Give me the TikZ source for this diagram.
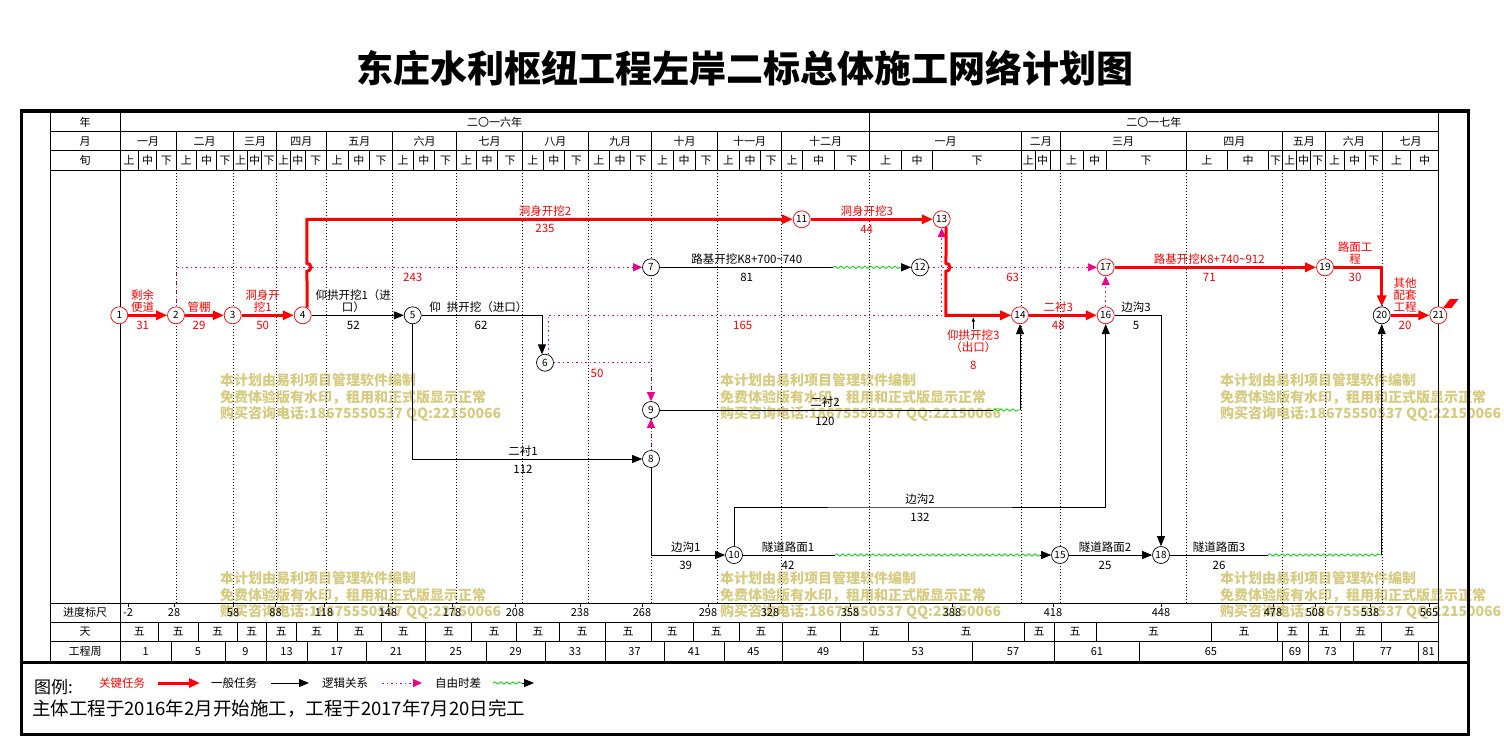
\documentclass[tikz,border=0pt]{standalone}
\usepackage{fontspec}
\setmainfont{Noto Sans CJK SC}
\usepackage{tikz}
\usetikzlibrary{arrows.meta,decorations.pathmorphing,positioning}
\definecolor{slackgreen}{RGB}{0,215,0}
\definecolor{wmcol}{RGB}{214,203,128}

\begin{document}
\begin{tikzpicture}[x=1pt,y=-1pt,
	ev/.style={shape=circle,draw=black,fill=white,inner sep=0pt,minimum size=17pt,line width=0.7pt,font=\fontsize{10}{10}\selectfont},
	kev/.style={ev,draw=red},
	crit/.style={draw=red,line width=3pt,-{Triangle[length=11pt,width=9pt]}},
	gen/.style={draw=black,line width=0.8pt,-{Triangle[length=10pt,width=8pt]}},
	logic/.style={draw=magenta,line width=0.8pt,dash pattern=on 1.5pt off 3pt,-{Triangle[length=9pt,width=8pt]}},
	wave/.style={draw=slackgreen,line width=0.8pt,decorate,decoration={snake,amplitude=1.2pt,segment length=6pt}},
	lab/.style={inner sep=0pt,align=center,font=\fontsize{11.5}{12}\selectfont},
	klab/.style={lab,text=red},
	hd/.style={inner sep=0pt,font=\fontsize{11}{11}\selectfont},
	mline/.style={line width=0.6pt,dash pattern=on 1pt off 2pt},
	wmk/.style={inner sep=0pt,anchor=west,text=wmcol,font=\fontsize{14}{15}\selectfont\bfseries}]
	\useasboundingbox (0,0) rectangle (1504,737);

	\foreach \wx [count=\i] in {220,720,1220}
		\foreach \wy [count=\j] in {380,578} {
			\node[wmk] (wa\i\j) at (\wx,\wy) {本计划由易利项目管理软件编制};
			\node[wmk] (wb\i\j) at (\wx,\wy+17) {免费体验版有水印，租用和正式版显示正常};
			\node[wmk] (wc\i\j) at (\wx,\wy+34) {购买咨询电话:18675550537 QQ:22150066};
		}

	\node[inner sep=0pt,font=\fontsize{37}{37}\selectfont\bfseries] (title) at (745,68) {东庄水利枢纽工程左岸二标总体施工网络计划图};

	\foreach \y in {131.7,150.7,170,603,622,641}
		\draw[line width=0.8pt] (50,\y) -- (1438.3,\y);
	\foreach \x in {50,120,1438.3}
		\draw[line width=0.8pt] (\x,113) -- (\x,661);
	\draw[line width=0.8pt] (869.3,113) -- (869.3,131.7);
	\draw[line width=3.5pt] (21.5,111) rectangle (1468.5,734.5);
	\draw[line width=3pt] (20,662.5) -- (1470,662.5);

	\node[hd] (lyear) at (85,122.3) {年};
	\node[hd] (lmon) at (85,141.2) {月};
	\node[hd] (lxun) at (85,160.4) {旬};
	\node[hd] (lscale) at (85,612.5) {进度标尺};
	\node[hd] (lday) at (85,631.5) {天};
	\node[hd] (lweek) at (85,651.5) {工程周};
	\node[hd] (y16) at (494.7,122.3) {二〇一六年};
	\node[hd] (y17) at (1153.8,122.3) {二〇一七年};

	\foreach \a/\b/\m [count=\i] in {120/176/一月,176/233.3/二月,233.3/276.7/三月,276.7/326/四月,326/392.7/五月,392.7/456.7/六月,456.7/522.3/七月,522.3/588.3/八月,588.3/651.7/九月,651.7/717.3/十月,717.3/781.7/十一月,781.7/869.3/十二月,869.3/1021.7/一月,1021.7/1060/二月,1060/1186/三月,1186/1282.7/四月,1282.7/1325/五月,1325/1382.7/六月,1382.7/1438.3/七月} {
		\node[hd] (mon\i) at ({(\a+\b)/2},141.2) {\m};
		\draw[line width=0.8pt] (\b,131.7) -- (\b,170);
	}

	\foreach \a/\p/\q/\b [count=\i] in {120/138.3/156.7/176,176/196.7/216.7/233.3,233.3/247.7/261.7/276.7,276.7/290.7/305/326,326/348.3/369.3/392.7,392.7/413.3/434.3/456.7,456.7/476.7/497.7/522.3,522.3/543.3/564.3/588.3,588.3/609.3/630.7/651.7,651.7/673.3/695/717.3,717.3/739.3/760.7/781.7,781.7/802.7/834.3/869.3,869.3/901.7/932.7/1021.7,1060/1083.3/1106/1186,1186/1227.7/1268.3/1282.7,1282.7/1296.7/1310.7/1325,1325/1344.3/1365/1382.7} {
		\draw[line width=0.8pt] (\p,150.7) -- (\p,170) (\q,150.7) -- (\q,170);
		\node[hd] (xa\i) at ({(\a+\p)/2},160.4) {上};
		\node[hd] (xb\i) at ({(\p+\q)/2},160.4) {中};
		\node[hd] (xc\i) at ({(\q+\b)/2},160.4) {下};
	}
	\draw[line width=0.8pt] (1035,150.7) -- (1035,170) (1050,150.7) -- (1050,170) (1410.7,150.7) -- (1410.7,170);
	\node[hd] (xfa) at (1028.4,160.4) {上};
	\node[hd] (xfb) at (1042.5,160.4) {中};
	\node[hd] (xja) at (1396.7,160.4) {上};
	\node[hd] (xjb) at (1424.5,160.4) {中};

	\foreach \x in {176,233.3,276.7,326,392.7,456.7,522.3,588.3,651.7,717.3,781.7,869.3,1021.7,1060,1186,1282.7,1325,1382.7}
		\draw[mline] (\x,170) -- (\x,603);

	\foreach \v/\x [count=\i] in {-2/128,28/174,58/233,88/275.5,118/324,148/388,178/452,208/515,238/580,268/642,298/708,328/770,358/850,388/952,418/1053,448/1161,478/1273,508/1315,538/1370,565/1429} {
		\draw[line width=0.6pt] (\x,603) -- (\x,607);
		\node[hd] (sc\i) at (\x,612.5) {\v};
	}
	\foreach \a/\b [count=\i] in {120.5/158,158/198,198/237,237/266,266/296,296/337,337/381,381/425.6,425.6/471.4,471.4/516.7,516.7/559,559/605,605/651,651/693.6,693.6/739,739/782.8,782.8/840.7,840.7/908,908/1024,1024/1054,1054/1096,1096/1211,1211/1277,1277/1308,1308/1340,1340/1381,1381/1438.3} {
		\node[hd] (day\i) at ({(\a+\b)/2},631.5) {五};
		\draw[line width=0.8pt] (\b,622) -- (\b,641);
	}
	\foreach \a/\b/\w [count=\i] in {120.5/171/1,171/225/5,225/266/9,266/307/13,307/366.7/17,366.7/425.6/21,425.6/486/25,486/545/29,545/605/33,605/664/37,664/724/41,724/782.8/45,782.8/863.5/49,863.5/972/53,972/1054/57,1054/1139.7/61,1139.7/1282/65,1282/1308/69,1308/1353/73,1353/1418.7/77,1418.7/1438.3/81} {
		\node[hd] (wk\i) at ({(\a+\b)/2},651.5) {\w};
		\draw[line width=0.8pt] (\b,641) -- (\b,661);
	}

	\node[kev] (n1) at (119.3,315.3) {1};
	\node[kev] (n2) at (176,315.3) {2};
	\node[kev] (n3) at (232.7,315.3) {3};
	\node[kev] (n4) at (302.7,315.3) {4};
	\node[ev] (n5) at (412.7,315.3) {5};
	\node[ev] (n6) at (545,362.7) {6};
	\node[ev] (n7) at (651,267.3) {7};
	\node[ev] (n8) at (651,459) {8};
	\node[ev] (n9) at (651,410) {9};
	\node[ev] (n10) at (734,555) {10};
	\node[kev] (n11) at (801.7,219.3) {11};
	\node[ev] (n12) at (920,267.3) {12};
	\node[kev] (n13) at (941.7,219.3) {13};
	\node[kev] (n14) at (1020,315.3) {14};
	\node[ev] (n15) at (1060,555) {15};
	\node[kev] (n16) at (1105.7,315.3) {16};
	\node[kev] (n17) at (1105.7,267.3) {17};
	\node[ev] (n18) at (1161,555) {18};
	\node[kev] (n19) at (1325,267.3) {19};
	\node[ev] (n20) at (1381.7,315.3) {20};
	\node[kev] (n21) at (1438.3,315.3) {21};
	\fill[red] (1443,308) -- (1450,299) -- (1458.5,299) -- (1451.5,308) -- cycle;

	\coordinate (w712a) at (833,267.3);
	\coordinate (w712b) at (901,267.3);
	\coordinate (w914a) at (993,410);
	\coordinate (w914b) at (n14 |- n9);
	\coordinate (w1015a) at (835,555);
	\coordinate (w1015b) at (1040,555);
	\coordinate (w1820a) at (1268,555);
	\coordinate (w1820b) at (n20 |- n18);
	\coordinate (c1016) at (920,507);
	\coordinate (c613) at (n13 |- n5);
	\coordinate (p1314) at (973.3,317.5);

	\draw[logic] (n2) |- (n7);
	\draw[logic] (n6.70) |- (c613) -- (n13);
	\draw[logic] (n6) -| (n9);
	\draw[logic] (n8) -- (n9);
	\draw[logic] (n12) -- (n17);
	\draw[logic] (n16) -- (n17);

	\draw[gen] (n4) -- (n5);
	\draw[gen] (n5) -| (n6.110);
	\draw[gen] (n5) |- (n8);
	\draw[gen,-] (n7) -- (w712a);
	\draw[wave] (w712a) -- (w712b);
	\draw[gen] (w712b) -- (n12);
	\draw[gen,-] (n9) -- (w914a);
	\draw[wave] (w914a) -- (w914b);
	\draw[gen] (w914b) -- (n14);
	\draw[gen] (n8) |- (n10);
	\draw[gen] (n10) |- (c1016) -| (n16);
	\draw[gen,-] (n10) -- (w1015a);
	\draw[wave] (w1015a) -- (w1015b);
	\draw[gen] (w1015b) -- (n15);
	\draw[gen] (n15) -- (n18);
	\draw[gen] (n16) -| (n18);
	\draw[gen,-] (n18) -- (w1820a);
	\draw[wave] (w1820a) -- (w1820b);
	\draw[gen] (w1820b) -- (n20);

	\draw[crit] (n1) -- (n2);
	\draw[crit] (n2) -- (n3);
	\draw[crit] (n3) -- (n4);
	\draw[crit] (n4.60) -- (306.95,271.3) arc[start angle=-90,end angle=90,radius=4pt] -- (306.95,219.3) -- (n11);
	\draw[crit] (n11) -- (n13);
	\draw[crit] (n13.-60) -- (945.95,263.3) arc[start angle=90,end angle=-90,radius=4pt] -- (945.95,315.3) -- (n14);
	\draw[crit] (n14) -- (n16);
	\draw[crit] (n17) -- (n19);
	\draw[crit] (n19) -| (n20);
	\draw[crit] (n20) -- (n21);

	\node[klab] (t12) at (142.7,301) {剩余\\便道};
	\node[klab] (d12) at (142.7,325) {31};
	\node[klab] (t23) at (199,307) {管棚};
	\node[klab] (d23) at (199,325) {29};
	\node[klab] (t34) at (262.7,301) {洞身开\\挖1};
	\node[klab] (d34) at (262.7,325) {50};
	\node[lab] (t45) at (353.3,301) {仰拱开挖1（进\\口）};
	\node[lab] (d45) at (353.3,325) {52};
	\node[lab] (t56) at (478.3,307) {仰\hspace{6pt}拱开挖（进口）};
	\node[lab] (d56) at (481,325) {62};
	\node[klab] (t411) at (545,210.7) {洞身开挖2};
	\node[klab] (d411) at (545,228.5) {235};
	\node[klab] (d27) at (412.7,277.3) {243};
	\node[lab] (t712) at (746.7,259) {路基开挖K8+700\textasciitilde740};
	\node[lab] (d712) at (746.7,277.3) {81};
	\node[klab] (t1113) at (866.7,210.7) {洞身开挖3};
	\node[klab] (d1113) at (866.7,229.3) {44};
	\node[klab] (d613) at (742.7,325) {165};
	\node[klab] (d69) at (597,373) {50};
	\node[klab] (t1314) at (973.3,341) {仰拱开挖3\\（出口）};
	\node[klab] (d1314) at (973.3,365) {8};
	\draw[line width=0.6pt,-{Triangle[length=4pt,width=3pt]}] (t1314.north) -- (p1314);
	\node[klab] (d1217) at (1012.7,277.3) {63};
	\node[klab] (t1416) at (1058.3,307) {二衬3};
	\node[klab] (d1416) at (1058.3,325) {48};
	\node[lab] (t1618) at (1136,307) {边沟3};
	\node[lab] (d1618) at (1136,325) {5};
	\node[klab] (t1719) at (1209.3,259) {路基开挖K8+740\textasciitilde912};
	\node[klab] (d1719) at (1209.3,277.3) {71};
	\node[klab] (t1920) at (1355,253) {路面工\\程};
	\node[klab] (d1920) at (1355,277.3) {30};
	\node[klab] (t2021) at (1405,295) {其他\\配套\\工程};
	\node[klab] (d2021) at (1405,325) {20};
	\node[lab] (t914) at (825,402) {二衬2};
	\node[lab] (d914) at (825,421) {120};
	\node[lab] (t58) at (523,451) {二衬1};
	\node[lab] (d58) at (523,469) {112};
	\node[lab] (t1016) at (920,499) {边沟2};
	\node[lab] (d1016) at (920,517) {132};
	\node[lab] (t810) at (685.7,547) {边沟1};
	\node[lab] (d810) at (685.7,565) {39};
	\node[lab] (t1015) at (788,547) {隧道路面1};
	\node[lab] (d1015) at (788,565) {42};
	\node[lab] (t1518) at (1105,547) {隧道路面2};
	\node[lab] (d1518) at (1105,565) {25};
	\node[lab] (t1820) at (1219,547) {隧道路面3};
	\node[lab] (d1820) at (1219,565) {26};

	\coordinate (lc1a) at (158,683);
	\coordinate (lc1b) at (200,683);
	\coordinate (lc2a) at (271,683);
	\coordinate (lc2b) at (309,683);
	\coordinate (lc3a) at (382,683);
	\coordinate (lc3b) at (422,683);
	\coordinate (lc4a) at (493,683);
	\coordinate (lc4b) at (522,683);
	\coordinate (lc4c) at (534,683);
	\node[lab,anchor=west,font=\fontsize{17}{17}\selectfont] (lgd) at (34,687) {图例:};
	\node[klab] (lk1) at (122,683) {关键任务};
	\draw[crit] (lc1a) -- (lc1b);
	\node[lab] (lk2) at (234,683) {一般任务};
	\draw[gen] (lc2a) -- (lc2b);
	\node[lab] (lk3) at (345,683) {逻辑关系};
	\draw[logic] (lc3a) -- (lc3b);
	\node[lab] (lk4) at (458,683) {自由时差};
	\draw[wave] (lc4a) -- (lc4b);
	\draw[gen] (lc4b) -- (lc4c);
	\node[lab,anchor=west,font=\fontsize{18.5}{19}\selectfont] (note) at (32,709) {主体工程于2016年2月开始施工，工程于2017年7月20日完工};
\end{tikzpicture}
\end{document}
